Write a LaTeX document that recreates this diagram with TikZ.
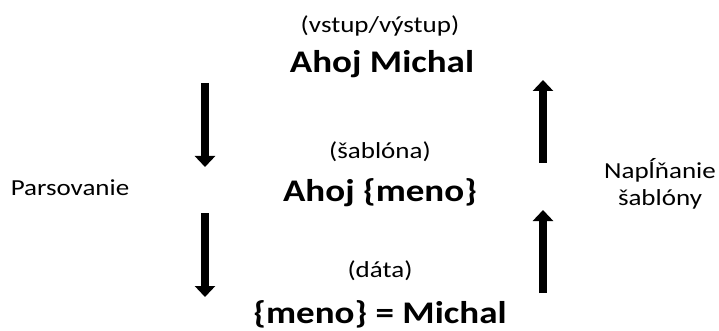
\documentclass[tikz,border=0pt]{standalone}
\usepackage{fontspec}
\setmainfont{Carlito}
\usepackage{tikz}
\usepackage{xcolor}
\usetikzlibrary{arrows.meta,positioning}
\definecolor{ink}{HTML}{000000}
\definecolor{paper}{HTML}{FFFFFF}
\newcommand{\squash}[1]{\scalebox{1}[0.85]{#1}}

\begin{document}
\begin{tikzpicture}[x=1pt,y=-1pt,
  roletext/.style={font=\fontsize{27}{27}\selectfont,text=ink,inner sep=0pt,align=center},
  valuetext/.style={font=\bfseries\fontsize{37}{42}\selectfont,text=ink,inner sep=0pt},
  flow/.style={draw=ink,line width=8.5pt,-{Triangle[width=20pt,length=11pt]}}]
 \fill[paper] (0,0) rectangle (719,331);
 \useasboundingbox (0,0) rectangle (719,331);
 \node[roletext,anchor=base] (iorole) at (380,33) {\squash{(vstup/výstup)}};
 \node[valuetext,anchor=base] (iovalue) at (382,73) {\squash{Ahoj Michal}};
 \node[roletext,anchor=base] (tplrole) at (380,158) {\squash{(šablóna)}};
 \node[valuetext,anchor=base] (tplvalue) at (380,201) {\squash{Ahoj \{meno\}}};
 \node[roletext,anchor=base] (datarole) at (380,277) {\squash{(dáta)}};
 \node[valuetext,anchor=base] (datavalue) at (380,323) {\squash{\{meno\} = Michal}};
 \node[roletext,anchor=base] (parsing) at (70,195) {\squash{Parsovanie}};
 \node[roletext] (filling) at (660,184) {\squash{Napĺňanie}\\\squash{šablóny}};
 \coordinate (parse1 from) at (205,83);
 \coordinate (parse1 to) at (205,167);
 \coordinate (parse2 from) at (205,213);
 \coordinate (parse2 to) at (205,297);
 \coordinate (fill1 from) at (543,293);
 \coordinate (fill1 to) at (543,210);
 \coordinate (fill2 from) at (543,163);
 \coordinate (fill2 to) at (543,80);
 \draw[flow] (parse1 from) -- (parse1 to);
 \draw[flow] (parse2 from) -- (parse2 to);
 \draw[flow] (fill1 from) -- (fill1 to);
 \draw[flow] (fill2 from) -- (fill2 to);
\end{tikzpicture}
\end{document}
